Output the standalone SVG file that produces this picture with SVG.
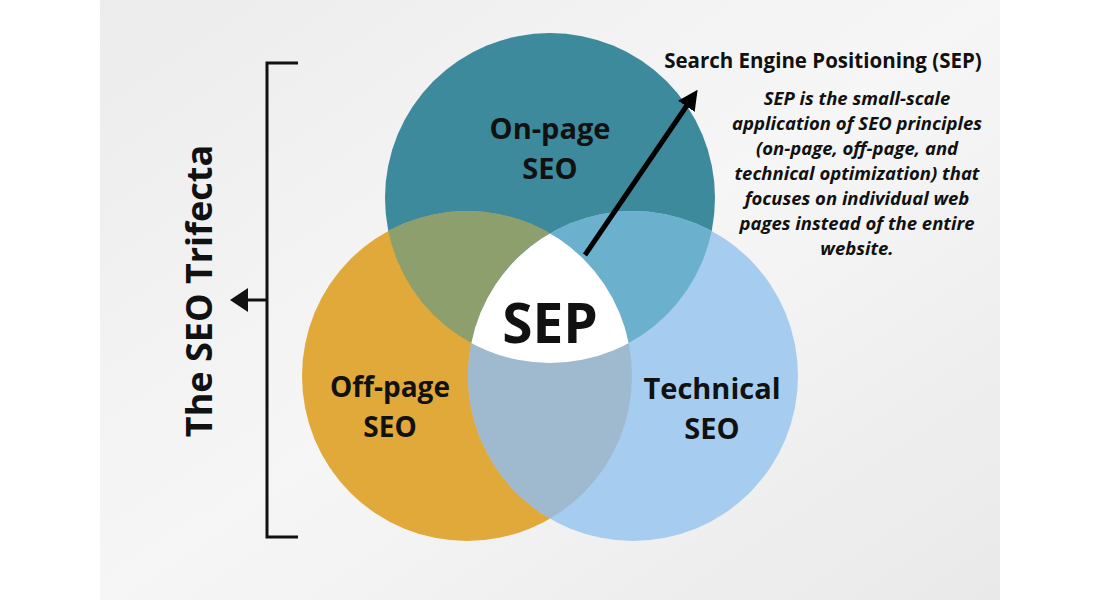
<svg xmlns="http://www.w3.org/2000/svg" width="1100" height="600" viewBox="0 0 1100 600">
<defs>
<linearGradient id="bg" x1="0" y1="0" x2="1" y2="1"><stop offset="0" stop-color="#ececec"/><stop offset="0.5" stop-color="#f6f6f6"/><stop offset="1" stop-color="#e9e9e9"/></linearGradient>
<clipPath id="cTop"><circle cx="550" cy="198" r="165"/></clipPath>
<clipPath id="cL"><circle cx="467" cy="376" r="165"/></clipPath>
<clipPath id="cR"><circle cx="633" cy="376" r="165"/></clipPath>
<marker id="ah" viewBox="0 0 10 10" refX="5" refY="5" markerWidth="4" markerHeight="4" orient="auto"><path d="M0,0 L10,5 L0,10 z" fill="#000"/></marker>
</defs>
<style>
.lbl{font-family:"Open Sans","Liberation Sans",sans-serif;font-weight:bold;fill:#111;text-anchor:middle}
.para{font-family:"Open Sans","Liberation Sans",sans-serif;font-weight:bold;font-style:italic;fill:#111;text-anchor:middle}
</style>
<rect width="1100" height="600" fill="#fff"/>
<rect x="100" y="0" width="900" height="600" fill="url(#bg)"/>
<g id="bracket" fill="none" stroke="#111" stroke-width="3">
<path d="M298,63 H267 V537 H298"/>
<path d="M267,300 H245"/>
<path d="M230,300 L248,288 L248,312 z" fill="#111" stroke="none"/>
</g>
<text class="lbl" font-size="36" transform="translate(212,291) rotate(-90)">The SEO Trifecta</text>
<g id="onpage"><circle cx="550" cy="198" r="165" fill="#3d8a9c"/></g>
<g id="offpage"><circle cx="467" cy="376" r="165" fill="#e0a93a"/></g>
<g id="technical"><circle cx="633" cy="376" r="165" fill="#a6cdef"/></g>
<g clip-path="url(#cTop)"><circle cx="467" cy="376" r="165" fill="#8c9f6c"/><circle cx="633" cy="376" r="165" fill="#6bb1cd"/></g>
<g clip-path="url(#cL)"><circle cx="633" cy="376" r="165" fill="#9fb9cf"/></g>
<g clip-path="url(#cL)"><g clip-path="url(#cR)"><circle cx="550" cy="198" r="165" fill="#fff"/></g></g>
<text class="lbl" font-size="29" x="550" y="139">On-page</text>
<text class="lbl" font-size="29" x="550" y="179">SEO</text>
<text class="lbl" font-size="28" x="390" y="397">Off-page</text>
<text class="lbl" font-size="28" x="390" y="437">SEO</text>
<text class="lbl" font-size="29" x="712" y="399">Technical</text>
<text class="lbl" font-size="29" x="712" y="439">SEO</text>
<text class="lbl" font-size="55" x="550" y="343">SEP</text>
<g id="connectors"><line x1="585" y1="255" x2="692" y2="98" stroke="#000" stroke-width="5" marker-end="url(#ah)"/></g>
<text class="lbl" font-size="20.5" x="823" y="68">Search Engine Positioning (SEP)</text>
<g class="para" style="font-size:18.5px">
<text x="857" y="105">SEP is the small-scale</text>
<text x="857" y="130">application of SEO principles</text>
<text x="857" y="155">(on-page, off-page, and</text>
<text x="857" y="180">technical optimization) that</text>
<text x="857" y="205">focuses on individual web</text>
<text x="857" y="230">pages instead of the entire</text>
<text x="857" y="255">website.</text>
</g>
</svg>
